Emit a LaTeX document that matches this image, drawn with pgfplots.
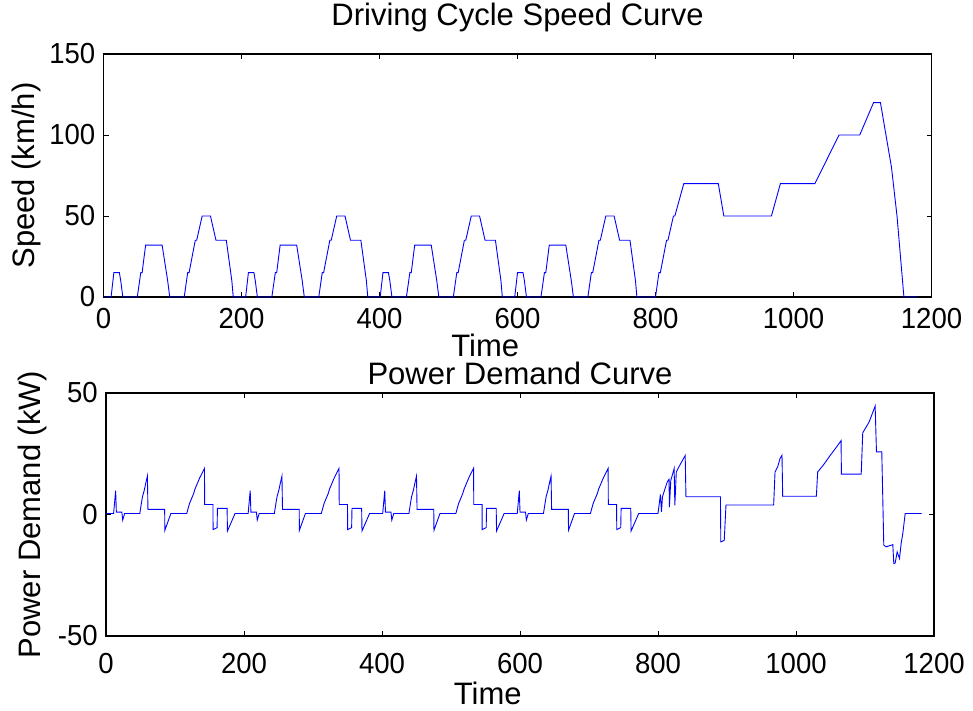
\documentclass[border=0pt]{standalone}
\usepackage{fontspec}
\setmainfont{Liberation Sans}
\newfontfamily\tickfont{Liberation Sans}[FakeStretch=0.95]
\usepackage{pgfplots}
\pgfplotsset{compat=1.18}
\definecolor{mblue}{RGB}{0,0,255}
\pgfplotsset{
  mlab/.style={
    scale only axis,
    width=828pt, height=243pt,
    xmin=0, xmax=1200,
    xtick={0,200,...,1200},
    axis line style={black, line width=1.2pt},
    major tick style={black, line width=0.8pt},
    major tick length=5pt,
    tick align=inside,
    /pgf/number format/assume math mode=true,
    /pgf/number format/1000 sep={},
    tick label style={font=\tickfont\fontsize{29}{29}\selectfont},
    label style={font=\fontsize{31}{31}\selectfont},
    title style={font=\fontsize{31}{31}\selectfont},
    yticklabel style={anchor=east, inner sep=0pt, xshift=-8pt},
    xticklabel style={anchor=base, inner sep=0pt},
  }
}
\begin{document}
\begin{tikzpicture}[x=1pt,y=1pt]
\path[use as bounding box] (0pt,0pt) rectangle (973pt,710pt);
% ---------------- Speed ----------------
\begin{axis}[mlab,
  at={(103.5pt,413pt)}, anchor=south west,
  ymin=0, ymax=150, ytick={0,50,100,150},
  xticklabel style={yshift=-31pt},
  title={Driving Cycle Speed Curve},
  title style={at={(axis description cs:0.5,1)}, anchor=base, yshift=22pt, inner sep=0pt},
  xlabel={Time},
  xlabel style={at={(axis description cs:0.461,0)}, anchor=base, yshift=-59pt, inner sep=0pt},
  ylabel={Speed (km/h)},
  ylabel style={at={(axis description cs:-0.0833,0.5)}, anchor=base, rotate=0, inner sep=0pt},
]
\addplot[mblue, line width=0.9pt] coordinates {
(0,0) (11,0) (15,15) (23,15) (25,10) (28,0) (49,0) (54,15) (56,15) (61,32) (85,32) (93,10) (96,0)
(117,0) (122,15) (124,15) (133,35) (135,35) (143,50) (155,50) (163,35) (176,35) (178,35) (186,10) (188,0) (195,0)
(206,0) (210,15) (218,15) (220,10) (223,0) (244,0) (249,15) (251,15) (256,32) (280,32) (288,10) (291,0)
(312,0) (317,15) (319,15) (328,35) (330,35) (338,50) (350,50) (358,35) (371,35) (373,35) (381,10) (383,0) (390,0)
(401,0) (405,15) (413,15) (415,10) (418,0) (439,0) (444,15) (446,15) (451,32) (475,32) (483,10) (486,0)
(507,0) (512,15) (514,15) (523,35) (525,35) (533,50) (545,50) (553,35) (566,35) (568,35) (576,10) (578,0) (585,0)
(596,0) (600,15) (608,15) (610,10) (613,0) (634,0) (639,15) (641,15) (646,32) (670,32) (678,10) (681,0)
(702,0) (707,15) (709,15) (718,35) (720,35) (728,50) (740,50) (748,35) (761,35) (763,35) (771,10) (773,0) (780,0)
(800,0) (805,15) (807,15) (816,35) (818,35) (826,50) (828,50) (841,70) (891,70) (899,50) (968,50) (981,70)
(1031,70) (1066,100) (1096,100) (1116,120) (1126,120) (1142,80) (1150,50) (1160,0) (1180,0)
};
\end{axis}
% ---------------- Power ----------------
\begin{axis}[mlab,
  at={(106pt,74pt)}, anchor=south west,
  ymin=-50, ymax=50, ytick={-50,0,50},
  xticklabel style={yshift=-37pt},
  title={Power Demand Curve},
  title style={at={(axis description cs:0.5,1)}, anchor=base, yshift=3pt, inner sep=0pt},
  xlabel={Time},
  xlabel style={at={(axis description cs:0.461,0)}, anchor=base, yshift=-68pt, inner sep=0pt},
  ylabel={Power Demand (kW)},
  ylabel style={at={(axis description cs:-0.0786,0.5)}, anchor=base, rotate=0, inner sep=0pt},
]
\addplot[mblue, line width=0.9pt] coordinates {
(0,0.4) (11,0.4) (14,9.8) (15,1.0) (23,1.0) (24.2,-2.3) (27,0.4) (49,0.4) (51.5,5.0) (53,7.5) (55.5,10.0) (57.5,12.7) (60,15.8) (60.8,2.1) (85,2.1) (85.3,-6.5) (94,0.4)
(117,0.4) (121,4.5) (127,8.6) (129,10.5) (136,15.2) (142.7,19.0) (143,4.1) (155,4.1) (155.2,-6.2) (161,-5.4) (161.5,2.5) (175.5,2.5) (176,-6.8) (187,0.4) (195,0.4)
(206,0.4) (209,9.8) (210,1.0) (218,1.0) (219.2,-2.3) (222,0.4) (244,0.4) (246.5,5.0) (248,7.5) (250.5,10.0) (252.5,12.7) (255,15.8) (255.8,2.1) (280,2.1) (280.3,-6.5) (289,0.4)
(312,0.4) (316,4.5) (322,8.6) (324,10.5) (331,15.2) (337.7,19.0) (338,4.1) (350,4.1) (350.2,-6.2) (356,-5.4) (356.5,2.5) (370.5,2.5) (371,-6.8) (382,0.4) (390,0.4)
(401,0.4) (404,9.8) (405,1.0) (413,1.0) (414.2,-2.3) (417,0.4) (439,0.4) (441.5,5.0) (443,7.5) (445.5,10.0) (447.5,12.7) (450,15.8) (450.8,2.1) (475,2.1) (475.3,-6.5) (484,0.4)
(507,0.4) (511,4.5) (517,8.6) (519,10.5) (526,15.2) (532.7,19.0) (533,4.1) (545,4.1) (545.2,-6.2) (551,-5.4) (551.5,2.5) (565.5,2.5) (566,-6.8) (577,0.4) (585,0.4)
(596,0.4) (599,9.8) (600,1.0) (608,1.0) (609.2,-2.3) (612,0.4) (634,0.4) (636.5,5.0) (638,7.5) (640.5,10.0) (642.5,12.7) (645,15.8) (645.8,2.1) (670,2.1) (670.3,-6.5) (679,0.4)
(702,0.4) (706,4.5) (712,8.6) (714,10.5) (721,15.2) (727.7,19.0) (728,4.1) (740,4.1) (740.2,-6.2) (746,-5.4) (746.5,2.5) (760.5,2.5) (761,-6.8) (772,0.4) (780,0.4)
(800,0.4) (803.5,8.3) (805,1.1) (806.5,7.3) (810,10.5) (813.5,13.5) (816,14.5) (816.5,3.0) (818.5,14.0) (821,16.5) (823.4,18.9) (824.4,3.8) (826.5,17.5) (830,19.5) (835,22) (839.4,24.3) (840.5,7.3)
(890.5,7.3) (891,-11.3) (896,-10.6) (898.5,3.9) (967.6,3.9) (969.6,17.5) (973.4,19.6) (976.8,23) (979.7,24.4) (980.7,7.5)
(1029.5,7.5) (1031.4,17.5) (1040,20.5) (1050,24.5) (1058,27.5) (1065.3,30.4) (1065.8,16.6) (1094.5,16.6) (1096.7,33.6) (1106,38.1) (1114.7,44.6) (1116.6,25.8) (1124.3,25.8)
(1127.2,-12.6) (1130.6,-13.3) (1140.3,-12.4) (1141.7,-20.2) (1143.7,-20.0) (1146.6,-15.4) (1150,-18.1) (1152.4,-11.9) (1154.8,-7.8) (1158.2,0.4) (1182,0.4)
};
\end{axis}
\end{tikzpicture}
\end{document}
